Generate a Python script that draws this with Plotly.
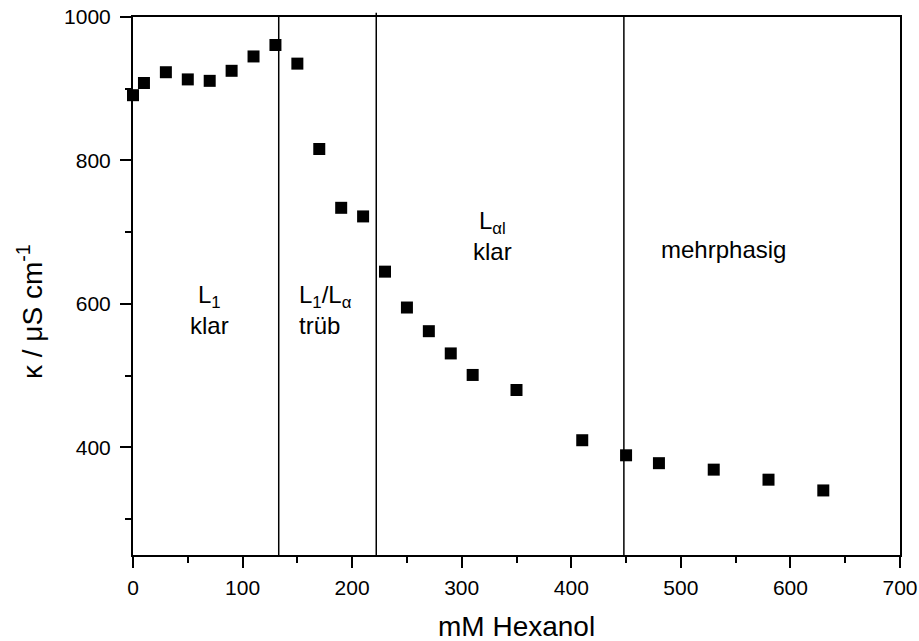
import plotly.graph_objects as go

hexanol_mM = [0, 10, 30, 50, 70, 90, 110, 130, 150, 170, 190, 210, 230, 250, 270, 290, 310, 350, 410, 450, 480, 530, 580, 630]
kappa = [891, 908, 923, 913, 911, 925, 945, 961, 935, 816, 734, 722, 645, 595, 562, 531, 501, 480, 410, 389, 378, 369, 355, 340]

phase_bounds = [133, 222, 448]
bound_top = [1.0, 1.008, 1.0]
region_labels = ["L<sub>1</sub><br>klar", "L<sub>1</sub>/L<sub>α</sub><br>trüb", "L<sub>αl</sub><br>klar", "mehrphasig"]
label_x = [70, 150, 328, 539]
label_y = [592, 592, 695, 676]
label_anchor = ["center", "left", "center", "center"]

FONT = "Liberation Sans, Arial, sans-serif"

fig = go.Figure()
fig.add_trace(go.Scatter(
    x=hexanol_mM, y=kappa, mode="markers",
    marker=dict(symbol="square", size=12, color="black"),
    showlegend=False, cliponaxis=False,
))

for xb, yt in zip(phase_bounds, bound_top):
    fig.add_shape(type="line", xref="x", yref="paper", x0=xb, x1=xb, y0=0, y1=yt,
                  line=dict(color="black", width=1.5))

for txt, lx, ly, anc in zip(region_labels, label_x, label_y, label_anchor):
    fig.add_annotation(x=lx, y=ly, xref="x", yref="y", text=txt, showarrow=False,
                       xanchor=anc, yanchor="middle", align=anc,
                       font=dict(family=FONT, size=24, color="black"))

# axis titles placed as annotations
fig.add_annotation(x=-0.1343, y=0.4535, xref="paper", yref="paper",
                   text="κ / μS cm<sup>-1</sup>", textangle=-90, showarrow=False,
                   xanchor="center", yanchor="middle",
                   font=dict(family=FONT, size=28, color="black"))
fig.add_annotation(x=0.5, y=-0.132, xref="paper", yref="paper",
                   text="mM Hexanol", showarrow=False,
                   xanchor="center", yanchor="middle",
                   font=dict(family=FONT, size=28, color="black"))

fig.update_layout(
    width=919, height=641,
    margin=dict(l=133, r=19, t=17, b=86, autoexpand=False),
    plot_bgcolor="white", paper_bgcolor="white",
    font=dict(family=FONT, size=21, color="black"),
)
fig.update_xaxes(
    range=[0, 700], dtick=100, tick0=0,
    showline=True, linecolor="black", linewidth=2, mirror=True,
    ticks="outside", ticklen=11, tickwidth=2, tickcolor="black",
    minor=dict(ticks="outside", dtick=50, ticklen=6, tickwidth=2, tickcolor="black", showgrid=False),
    showgrid=False, zeroline=False,
    tickfont=dict(family=FONT, size=21),
    ticklabelstandoff=2, automargin=False,
)
fig.update_yaxes(
    range=[250, 1000], dtick=200, tick0=0,
    showline=True, linecolor="black", linewidth=2, mirror=True,
    ticks="outside", ticklen=11, tickwidth=2, tickcolor="black",
    minor=dict(ticks="outside", dtick=100, ticklen=6, tickwidth=2, tickcolor="black", showgrid=False),
    showgrid=False, zeroline=False,
    tickfont=dict(family=FONT, size=21),
    ticklabelstandoff=5, automargin=False,
)

fig.write_html("out.html")
